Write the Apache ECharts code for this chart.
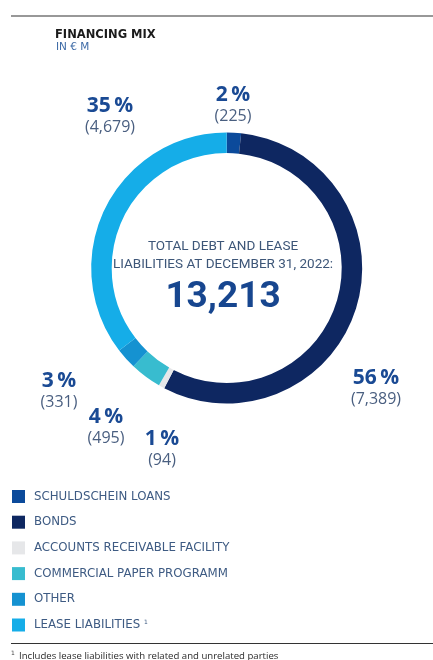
<!DOCTYPE html>
<html>
<head>
<meta charset="utf-8">
<script src="https://cdn.jsdelivr.net/npm/echarts@6/dist/echarts.min.js"></script>
<style>
  html, body { margin: 0; padding: 0; background: #fff; }
  #chart { width: 433px; height: 660px; }
</style>
</head>
<body>
<div id="chart"></div>
<script>
// Financing mix, € million, clockwise from 12 o'clock
const categories = [
  'SCHULDSCHEIN LOANS',
  'BONDS',
  'ACCOUNTS RECEIVABLE FACILITY',
  'COMMERCIAL PAPER PROGRAMM',
  'OTHER',
  'LEASE LIABILITIES'
];
const amounts = [225, 7389, 94, 495, 331, 4679];
const totalLabel = '13,213';
const centerLines = ['TOTAL DEBT AND LEASE', 'LIABILITIES AT DECEMBER 31, 2022:'];
const footnote = 'Includes lease liabilities with related and unrelated parties';

// Presentation
const colors = ['#0b4a9b', '#0e2761', '#e6e7e9', '#38bccf', '#1592d1', '#15ade8'];
// label block centres (x, y) per segment
const labelSpots = [[233, 105], [376, 388], [162, 449], [106, 427], [59, 391], [110, 116]];

const fmt = n => n.toLocaleString('en-US');

const chart = echarts.init(document.getElementById('chart'), null, { renderer: 'canvas' });

chart.setOption({
  animation: false,
  color: colors,
  legend: {
    orient: 'vertical',
    left: 12,
    top: 490,
    padding: 0,
    itemWidth: 13,
    itemHeight: 13,
    itemGap: 12.7,
    icon: 'rect',
    selectedMode: false,
    data: categories,
    formatter: name => name === 'LEASE LIABILITIES' ? name + ' {s|1}' : name,
    textStyle: {
      color: '#3e5b83',
      fontFamily: 'DejaVu Sans',
      fontSize: 11.8,
      padding: [0, 0, 0, 4],
      rich: { s: { fontSize: 6, color: '#3e5b83', verticalAlign: 'top', padding: [0, 0, 6, 0] } }
    }
  },
  series: [{
    type: 'pie',
    center: [226.7, 268],
    radius: [115, 135.5],
    startAngle: 90,
    clockwise: true,
    avoidLabelOverlap: false,
    emphasis: { disabled: true },
    silent: true,
    labelLine: { show: false },
    data: categories.map((c, i) => ({ name: c, value: amounts[i] })),
    label: {
      show: true,
      position: 'outside',
      formatter: p => '{p|' + Math.round(p.percent) + '\u2009%}\n{v|(' + fmt(p.value) + ')}',
      rich: {
        p: { fontFamily: 'Open Sans', fontWeight: 'bold', fontSize: 21, color: '#1a4a94', lineHeight: 23, align: 'center' },
        v: { fontFamily: 'Open Sans', fontSize: 16, color: '#4a5f80', lineHeight: 20, align: 'center' }
      }
    },
    labelLayout: p => ({
      x: labelSpots[p.dataIndex][0],
      y: labelSpots[p.dataIndex][1],
      align: 'center',
      verticalAlign: 'middle'
    })
  }],
  graphic: [
    { type: 'line', shape: { x1: 11, y1: 16, x2: 433, y2: 16 }, style: { stroke: '#333', lineWidth: 1.2 } },
    { type: 'text', left: 55, top: 29, style: { text: 'FINANCING MIX', font: 'bold 11.5px "DejaVu Sans"', fill: '#1b1b1b' } },
    { type: 'text', left: 56, top: 42, style: { text: 'IN € M', font: '10.5px "DejaVu Sans"', fill: '#3d6aa6' } },
    { type: 'text', x: 223, y: 247, style: { text: centerLines[0], font: '13.5px Roboto', fill: '#3d5678', align: 'center', verticalAlign: 'middle' } },
    { type: 'text', x: 223, y: 265, style: { text: centerLines[1], font: '13.5px Roboto', fill: '#3d5678', align: 'center', verticalAlign: 'middle' } },
    { type: 'text', x: 223, y: 298, style: { text: totalLabel, font: 'bold 37px Roboto', fill: '#17468f', align: 'center', verticalAlign: 'middle' } },
    { type: 'line', shape: { x1: 11, y1: 643.5, x2: 433, y2: 643.5 }, style: { stroke: '#333', lineWidth: 1.2 } },
    { type: 'text', left: 11, top: 650, style: { text: '1', font: '6px "DejaVu Sans"', fill: '#444' } },
    { type: 'text', left: 19, top: 651, style: { text: footnote, font: '9.6px "Open Sans"', fill: '#2a2a2a' } }
  ]
});
</script>
</body>
</html>
